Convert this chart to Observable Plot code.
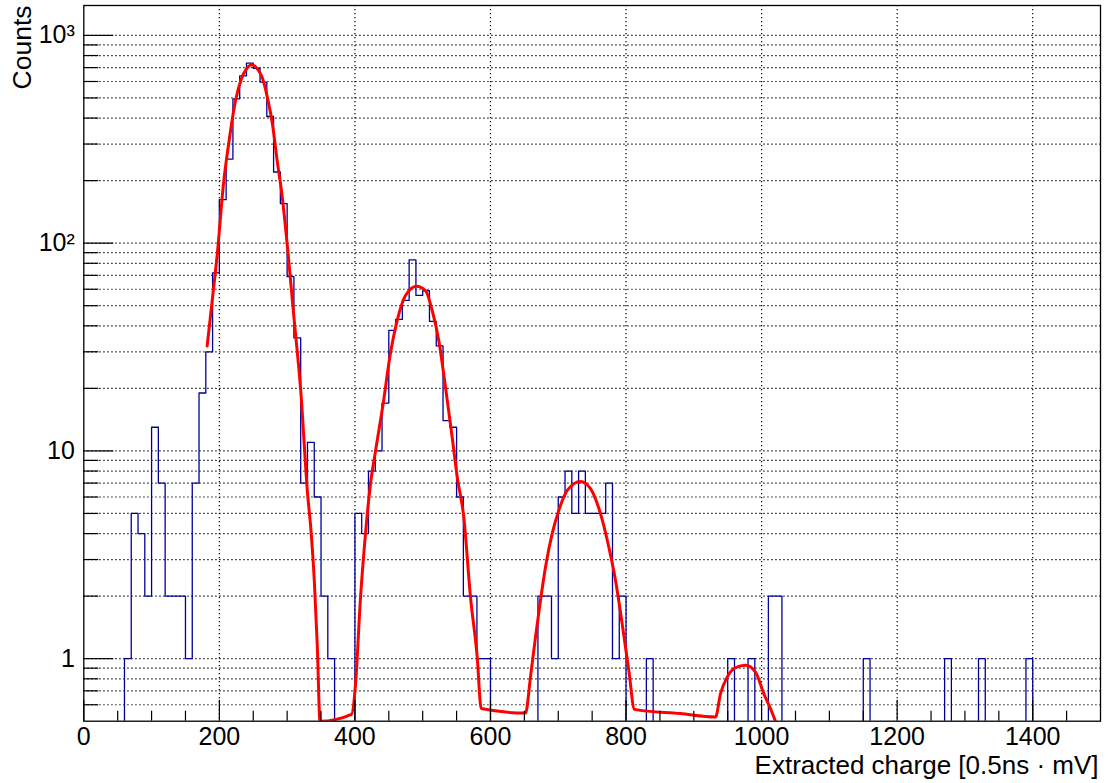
<!DOCTYPE html>
<html><head><meta charset="utf-8">
<script src="https://cdn.jsdelivr.net/npm/d3@7"></script>
<script src="https://cdn.jsdelivr.net/npm/@observablehq/plot@0.6"></script>
<style>html,body{margin:0;padding:0;background:#fff}#chart svg{display:block}</style>
</head><body><div id="chart"></div>
<script>
// ---- data ----
const binWidth = 10;
const counts = [
  0,0,0,0,0,0,1,5,4,2,
  13,7,2,2,2,1,7,19,30,72,
  162,254,495,639,735,695,596,407,220,155,
  69,35,7,11,6,2,1,0,0,0,
  5,4,8,10,17,38,43,53,83,56,
  59,42,32,14,13,6,2,2,1,1,
  0,0,0,0,0,0,0,2,2,1,
  6,8,5,8,5,5,5,7,1,2,
  0,0,0,1,0,0,0,0,0,0,
  0,0,0,0,0,1,0,0,1,0,
  0,2,2,0,0,0,0,0,0,0,
  0,0,0,0,0,1,0,0,0,0,
  0,0,0,0,0,0,0,1,0,0,
  0,0,1,0,0,0,0,0,0,1,
  0,0,0,0,0,0,0,0,0,0
];
const fitX = [182,190,197,206,214,224,232,240,248,256,263,271,278,286,292,301,310,320,330,335,340,344.5,348.5,
  395,401,408,415.6,423,430.4,441.7,451.5,462.4,474.6,490.9,504.1,514,523.7,533.6,543.4,550.9,560.6,570.5,580.4,586.3,
  651.7,659,666.4,673.8,681.2,691,700.8,713.2,732.8,747.6,762.3,774.6,784.5,794.3,804.1,812.5,
  880,932,939.4,949.3,961.5,976.3,991,1003.2,1013.1,1020.5];
const fitY = [32,55,89,192,305,488,612,690,722,690,630,500,380,240,175,92,44,19.6,6.3,4.2,2.4,1.15,0.5,
  0.54,0.76,1.91,4.0,6.95,10,16.9,28.3,42.5,56,62.1,59.2,47.5,34,20.3,11.7,7.5,4.8,1.98,1.02,0.575,
  0.547,0.815,1.27,1.91,2.76,4.0,5.17,6.45,7.13,6.58,4.99,3.44,2.38,1.47,0.878,0.57,
  0.544,0.524,0.679,0.815,0.905,0.929,0.862,0.679,0.575,0.5];
const xMajorTicks = [0,200,400,600,800,1000,1200,1400];
const xMinorTicks = [50,100,150,250,300,350,450,500,550,650,700,750,850,900,950,1050,1100,1150,1250,1300,1350,1450];
const yMajorTicks = [1,10,100,1000];
const yMajorLabels = ["1","10","10²","10³"];
const yMinorTicks = [0.6,0.7,0.8,0.9,2,3,4,5,6,7,8,9,20,30,40,50,60,70,80,90,200,300,400,500,600,700,800,900];
const xTitle = "Extracted charge [0.5ns · mV]";
const yTitle = "Counts";

// ---- layout ----
const W = 1108, H = 783, mL = 83.3, mR = 8, mT = 5, mB = 62.3;
const innerW = W - mL - mR, innerH = H - mT - mB;
const floorVal = 0.05;
const font = "'Liberation Sans', Arial, Helvetica, sans-serif";

const steps = counts.flatMap((c, i) => [
  {x: i * binWidth, y: c > 0 ? c : floorVal},
  {x: (i + 1) * binWidth, y: c > 0 ? c : floorVal}
]);
const fit = fitX.map((x, i) => ({x, y: fitY[i]}));

const chart = Plot.plot({
  width: W, height: H,
  marginLeft: mL, marginRight: mR, marginTop: mT, marginBottom: mB,
  style: {fontFamily: font, fontSize: "25px", background: "#fff", color: "#000"},
  x: {domain: [0, 1500]},
  y: {type: "log", domain: [0.5, 1393]},
  marks: [
    Plot.ruleX(xMajorTicks.filter(d => d > 0), {x: d => d, stroke: "#000", strokeWidth: 1.2, strokeDasharray: "1.3,2.7"}),
    Plot.ruleY([...yMinorTicks, ...yMajorTicks], {y: d => d, stroke: "#000", strokeWidth: 1.2, strokeDasharray: "1.3,2.7"}),
    Plot.line(steps, {x: "x", y: "y", stroke: "#000099", strokeWidth: 1.3, clip: true}),
    Plot.line(fit, {x: "x", y: "y", stroke: "#ff0000", strokeWidth: 3, curve: "monotone-x", clip: true}),
    Plot.tickY(yMajorTicks, {y: d => d, stroke: "#000", strokeWidth: 1.2, insetRight: innerW - 30}),
    Plot.tickY(yMinorTicks, {y: d => d, stroke: "#000", strokeWidth: 1.2, insetRight: innerW - 15}),
    Plot.tickX(xMajorTicks, {x: d => d, stroke: "#000", strokeWidth: 1.2, insetTop: innerH - 21}),
    Plot.tickX(xMinorTicks, {x: d => d, stroke: "#000", strokeWidth: 1.2, insetTop: innerH - 10}),
    Plot.frame({stroke: "#000", strokeWidth: 1.3}),
    Plot.axisX({ticks: xMajorTicks, tickSize: 0, tickPadding: 6, tickFormat: d => String(d), label: null, fontSize: 25}),
    Plot.axisY({ticks: yMajorTicks, tickSize: 0, tickPadding: 9, tickFormat: d => yMajorLabels[yMajorTicks.indexOf(d)], label: null, fontSize: 25}),
    Plot.text([xTitle], {text: d => d, frameAnchor: "bottom-right", textAnchor: "end", lineAnchor: "bottom", dx: -2, dy: 53, fontSize: 26, fill: "#000"}),
    Plot.text([yTitle], {text: d => d, frameAnchor: "top-left", textAnchor: "end", lineAnchor: "middle", rotate: -90, dx: -61, dy: 0, fontSize: 26.5, fill: "#000"})
  ]
});
document.getElementById("chart").appendChild(chart);
</script>
</body></html>
